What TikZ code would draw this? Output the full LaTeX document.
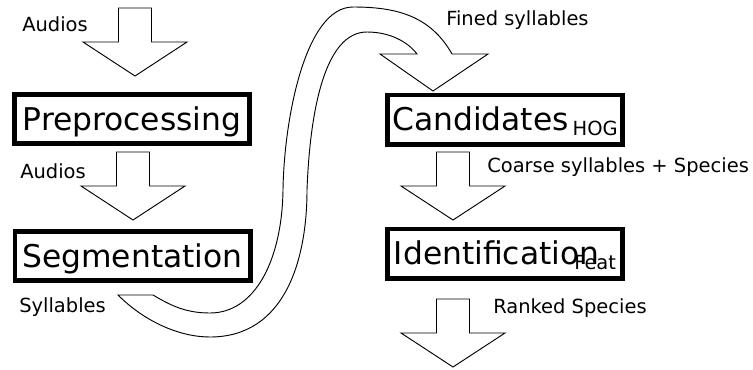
\documentclass[tikz,border=0pt]{standalone}
\usepackage{fontspec}
\setmainfont{DejaVu Sans}
\newcommand\boxfont{\fontsize{23.5}{28}\selectfont}
\newcommand\labelfont{\fontsize{14.6}{17}\selectfont}
\newcommand\subtext[1]{\raisebox{-3.8pt}{\labelfont #1}}
\tikzset{
    stage/.style={draw, line width=3.4pt, minimum width=176.6pt, minimum height=37.1pt,
        inner sep=0pt, font=\boxfont, text height=17.1pt, text depth=0pt},
    tag/.style={anchor=base west, inner sep=0pt, font=\labelfont},
    flowline/.style={draw=black, line width=0.7pt},
    flowarrow/.pic={
        \draw[flowline] (-16.5,0) -- (16.5,0) -- (16.5,34) -- (52,34) -- (0,68)
            -- (-52,34) -- (-16.5,34) -- cycle;
    }
}
\begin{document}
\begin{tikzpicture}[x=0.75pt, y=-0.75pt]
        \useasboundingbox (0,0) rectangle (753,369);
        % stages
        \node[stage] (prep) at (132,119) {Preprocessing};
        \node[stage] (seg) at (132.5,256) {Segmentation};
        \node[stage] (cand) at (505,119.5) {Candidates\kern3pt\subtext{HOG}};
        \node[stage] (ident) at (505,253.5) {Identification\kern-18.8pt\subtext{Feat}};
        % flow arrows
        \pic at (135,8) {flowarrow};
        \pic at (133,152) {flowarrow};
        \pic at (453,152) {flowarrow};
        \pic at (453,299) {flowarrow};
        % big bent arrow from segmentation to candidates
        \draw[flowline] (153,295) -- (118,295)
            .. controls (145,322) and (180,337) .. (210,337)
            .. controls (285,337) and (307,260) .. (307,190)
            .. controls (310,110) and (325,32) .. (367,32)
            .. controls (390,32) and (408,42) .. (417,54)
            -- (380,54) -- (433,91) -- (488,54) -- (452,54)
            .. controls (430,15) and (395,7) .. (353,7)
            .. controls (305,7) and (284,120) .. (283,190)
            .. controls (282,260) and (255,313) .. (210,313)
            .. controls (185,313) and (170,305) .. cycle;
        % labels
        \node[tag] (audio1) at (22,31) {Audios};
        \node[tag] (audio2) at (20,178) {Audios};
        \node[tag] (syll) at (19,312) {Syllables};
        \node[tag] (fine) at (446,25) {Fined syllables};
        \node[tag] (coarse) at (487,172) {Coarse syllables + Species};
        \node[tag] (rank) at (493,313) {Ranked Species};
\end{tikzpicture}
\end{document}
